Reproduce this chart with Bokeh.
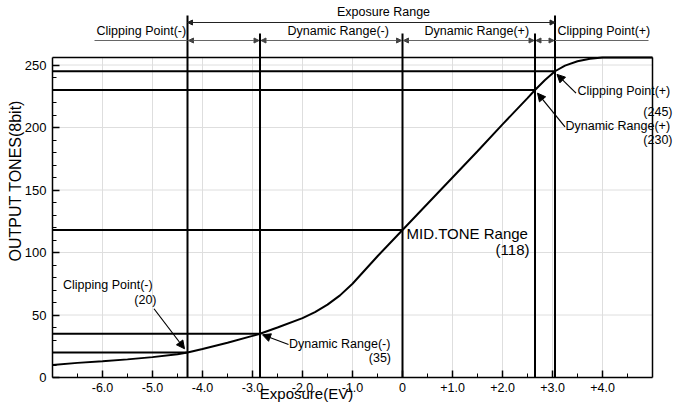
from bokeh.plotting import figure
from bokeh.models import Range1d, FixedTicker, Label, Arrow, NormalHead, LinearAxis
from bokeh.embed import file_html
from bokeh.resources import INLINE
import math

# ---- data -------------------------------------------------------------
ev = [-7.0, -6.5, -6.0, -5.5, -5.0, -4.5, -4.3, -4.0, -3.5, -3.0, -2.85, -2.5,
      -2.0, -1.75, -1.5, -1.25, -1.0, -0.75, -0.5, 0.0, 0.5, 1.0, 1.5, 2.0,
      2.5, 2.65, 2.85, 3.05, 3.25, 3.5, 3.75, 4.0, 4.5, 5.0]
tone = [10, 11.7, 13, 14.5, 16.3, 18.6, 20, 22.8, 27.8, 33.3, 35, 40,
        47.5, 52.3, 58.3, 65.7, 75, 86, 97, 118, 139, 160, 181, 202.5,
        223.5, 230, 238, 245, 249.5, 253, 255, 256, 256, 256]

mark_names = ["Clipping Point(-)", "Dynamic Range(-)", "MID.TONE Range",
              "Dynamic Range(+)", "Clipping Point(+)"]
mark_ev = [-4.3, -2.85, 0.0, 2.65, 3.05]
mark_tone = [20, 35, 118, 230, 245]

header_title = "Exposure Range"
header_names = ["Clipping Point(-)", "Dynamic Range(-)", "Dynamic Range(+)",
                "Clipping Point(+)"]

x_ticks = [-6, -5, -4, -3, -2, -1, 0, 1, 2, 3, 4]
x_tick_labels = ["-6.0", "-5.0", "-4.0", "-3.0", "-2.0", "-1.0", "0",
                 "+1.0", "+2.0", "+3.0", "+4.0"]
x_minor = [-6.5, -5.5, -4.5, -3.5, -2.5, -1.5, -0.5, 0.5, 1.5, 2.5, 3.5, 4.5]
y_ticks = [0, 50, 100, 150, 200, 250]
y_minor = [10, 20, 30, 40, 60, 70, 80, 90, 110, 120, 130, 140, 160, 170, 180,
           190, 210, 220, 230, 240]

x_title = "Exposure(EV)"
y_title = "OUTPUT  TONES(8bit)"

FONT = "Liberation Sans"
X0, X1, Y0, Y1 = -7.0, 5.0, 0.0, 256.0   # the plotted box

# ---- figure (frame covers the whole canvas; axes sit at fixed locations) --
p = figure(width=675, height=407, x_range=Range1d(-8.04, 5.46),
           y_range=Range1d(-24.0, 301.6), output_backend="svg",
           toolbar_location=None, x_axis_location=None, y_axis_location=None,
           min_border=0)
p.title.visible = False
p.background_fill_color = "white"
p.border_fill_color = "white"
p.outline_line_color = None
p.xgrid.visible = False
p.ygrid.visible = False

xaxis = LinearAxis(fixed_location=Y0, bounds=(X0, X1),
                   ticker=FixedTicker(ticks=x_ticks, minor_ticks=x_minor))
xaxis.major_label_overrides = {t: l for t, l in zip(x_ticks, x_tick_labels)}
yaxis = LinearAxis(fixed_location=X0, bounds=(Y0, Y1),
                   ticker=FixedTicker(ticks=y_ticks, minor_ticks=y_minor))
for ax in (xaxis, yaxis):
    ax.axis_line_color = "black"
    ax.axis_line_width = 1.5
    ax.major_tick_in = 7
    ax.major_tick_out = 0
    ax.minor_tick_in = 4
    ax.minor_tick_out = 0
    ax.major_tick_line_color = "black"
    ax.major_tick_line_width = 1.5
    ax.minor_tick_line_color = "black"
    ax.minor_tick_line_width = 1
    ax.major_label_text_font = FONT
    ax.major_label_text_color = "black"
xaxis.major_label_text_font_size = "12.5px"
xaxis.major_label_standoff = 5
yaxis.major_label_text_font_size = "13px"
yaxis.major_label_standoff = 6
p.add_layout(xaxis, "below")
p.add_layout(yaxis, "left")

# grid lines inside the box only, at the tick positions
p.segment(x0=x_ticks, y0=[Y0] * len(x_ticks), x1=x_ticks,
          y1=[Y1] * len(x_ticks), line_color="#dedede", line_width=1)
p.segment(x0=[X0] * len(y_ticks), y0=y_ticks, x1=[X1] * len(y_ticks),
          y1=y_ticks, line_color="#dedede", line_width=1)

# box top and right border
p.segment(x0=[X0, X1], y0=[Y1, Y0], x1=[X1, X1], y1=[Y1, Y1],
          line_color="black", line_width=1.5)

# horizontal reference lines from the left axis to each marker
p.segment(x0=[X0] * len(mark_ev), y0=mark_tone, x1=mark_ev, y1=mark_tone,
          line_color="black", line_width=2)
# vertical reference lines, reaching up into the header
line_tops = [289.6, 275.2, 275.2, 275.2, 289.6]
p.segment(x0=mark_ev, y0=[Y0] * len(mark_ev), x1=mark_ev, y1=line_tops,
          line_color="black", line_width=2)
# the tone curve
p.line(ev, tone, line_color="black", line_width=2)

# ---- header ----------------------------------------------------------
def head(c="#222222"):
    return NormalHead(size=5, fill_color=c, line_color=c, line_width=1)

p.add_layout(Arrow(start=head(), end=head(), x_start=mark_ev[0], y_start=284,
                   x_end=mark_ev[-1], y_end=284, line_color="#222222",
                   line_width=1))
p.add_layout(Label(x=-0.38, y=287.2, text=header_title, text_font=FONT,
                   text_font_size="12.5px", text_align="center",
                   text_color="black"))

row_y = 269.6
p.segment(x0=[-6.16, mark_ev[-1]], y0=[row_y, row_y], x1=[mark_ev[0], 4.92],
          y1=[row_y, row_y], line_color="#666666", line_width=1)
for a, b in zip(mark_ev[:-1], mark_ev[1:]):
    p.add_layout(Arrow(start=head("#444444"), end=head("#444444"),
                       x_start=a + 0.02, y_start=row_y, x_end=b - 0.02,
                       y_end=row_y, line_color="#666666", line_width=1))
for name, xl in zip(header_names, [-6.12, -2.3, 0.44, 3.1]):
    p.add_layout(Label(x=xl, y=272, text=name, text_font=FONT,
                       text_font_size="12.5px", text_align="left",
                       text_color="black"))

# ---- callouts ---------------------------------------------------------
def callout(name, value, lx, ly, vx, vy, tail, tip, size="12.5px"):
    p.add_layout(Label(x=lx, y=ly, text=name, text_font=FONT,
                       text_font_size=size, text_align="left",
                       text_color="black"))
    p.add_layout(Label(x=vx, y=vy, text="(%d)" % value, text_font=FONT,
                       text_font_size=size, text_align="right",
                       text_color="black"))
    if tail is not None:
        p.add_layout(Arrow(end=NormalHead(size=8, fill_color="black",
                                          line_color="black", line_width=1),
                           x_start=tail[0], y_start=tail[1], x_end=tip[0],
                           y_end=tip[1], line_color="black", line_width=1.2))

callout(mark_names[4], mark_tone[4], 3.5, 224, 5.4, 207.2,
        (3.47, 227.5), (3.09, 242.5))
callout(mark_names[3], mark_tone[3], 3.26, 196, 5.4, 184.8,
        (3.25, 200.5), (2.7, 227.5))
callout(mark_names[2], mark_tone[2], 0.08, 108.4, 2.54, 96, None, None,
        size="15px")
callout(mark_names[0], mark_tone[0], -6.79, 68.8, -4.92, 56.8,
        (-4.97, 55), (-4.36, 23))
callout(mark_names[1], mark_tone[1], -2.27, 21.6, -0.23, 10.4,
        (-2.28, 26.4), (-2.8, 34.2))

# ---- axis titles ------------------------------------------------------
p.add_layout(Label(x=-1.92, y=-19.4, text=x_title, text_font=FONT,
                   text_font_size="15px", text_align="center",
                   text_color="black"))
p.add_layout(Label(x=-7.74, y=159.2, text=y_title, text_font=FONT,
                   text_font_size="16px", text_align="center",
                   text_baseline="middle", angle=math.pi / 2,
                   text_color="black"))

open("out.html", "w").write(file_html(p, INLINE))
